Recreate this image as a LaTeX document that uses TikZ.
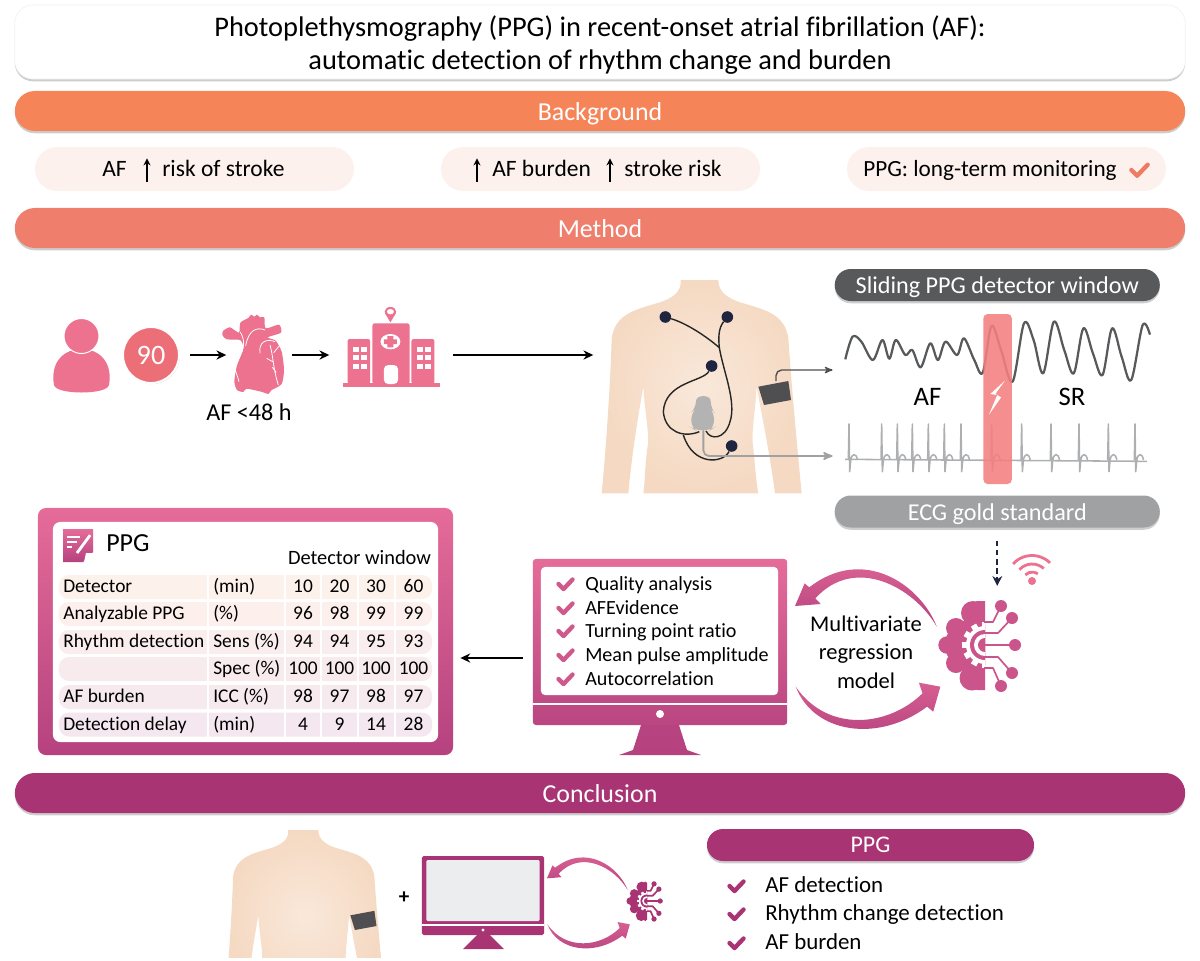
\documentclass[tikz,border=0pt]{standalone}
\usepackage{fontspec}
\setmainfont[Ligatures=NoCommon]{Carlito}
\usetikzlibrary{arrows,arrows.meta,positioning,shadows}

\definecolor{orangebar}{HTML}{F58558}
\definecolor{coralbar}{HTML}{EF7E6D}
\definecolor{plumbar}{HTML}{A93473}
\definecolor{pillfill}{HTML}{FDF1EE}
\definecolor{pinktop}{HTML}{E56C99}
\definecolor{pinkbot}{HTML}{B5427F}
\definecolor{iconpink}{HTML}{EC7290}
\definecolor{badgered}{HTML}{EC6F78}
\definecolor{skinin}{HTML}{F9E8DA}
\definecolor{skinout}{HTML}{F5D9C2}
\definecolor{cuffgray}{HTML}{4F4F51}
\definecolor{darklabel}{HTML}{58595B}
\definecolor{graylabel}{HTML}{A0A1A3}
\definecolor{navyblue}{HTML}{1F2540}
\definecolor{redwindow}{HTML}{F47F80}
\definecolor{rowtop}{HTML}{FDF1EC}
\definecolor{rowbot}{HTML}{F4E7EF}
\definecolor{devgray}{HTML}{B3B3B3}
\definecolor{screengray}{HTML}{ECEDEE}
\definecolor{checkcoral}{HTML}{EE7B62}

\tikzset{
	softshadow/.style={drop shadow={shadow xshift=0pt,shadow yshift=-1.6pt,opacity=.28,fill=black!70}},
	titlebox/.style={draw=black!6,fill=white,rounded corners=.45cm,minimum width=29.25cm,minimum height=1.85cm,inner sep=0pt,align=center,softshadow,font=\fontsize{20.2}{23.5}\selectfont},
	headbar/.style={rounded corners=.5cm,minimum width=29.25cm,minimum height=1cm,inner sep=0pt,text=white,softshadow,text height=14pt,text depth=1.2pt,font=\fontsize{18.4}{22}\selectfont},
	pill/.style={fill=pillfill,rounded corners=.55cm,minimum width=7.975cm,minimum height=1.1cm,inner sep=0pt},
	pilltext/.style={anchor=base west,inner sep=0pt,font=\fontsize{16.7}{20}\selectfont},
	greylabel/.style={rounded corners=.4cm,minimum width=8.125cm,minimum height=.8cm,inner sep=0pt,text=white,softshadow,text height=13.5pt,text depth=.8pt,font=\fontsize{17.2}{20}\selectfont},
	iconbox/.style={inner sep=0pt},
	plaintext/.style={inner sep=0pt,font=\fontsize{17.2}{20}\selectfont},
	waveletter/.style={inner sep=0pt,font=\fontsize{19}{22}\selectfont},
	rowbar/.style={rounded corners=.25cm,minimum width=9.325cm,minimum height=.6cm,inner sep=0pt},
	celltext/.style={anchor=base,inner sep=0pt,font=\fontsize{13.8}{17}\selectfont},
	listtext/.style={anchor=base west,inner sep=0pt,font=\fontsize{14.3}{18}\selectfont},
	electrode/.style={circle,fill=navyblue,inner sep=0pt,minimum size=.29cm},
	wire/.style={black!85,line width=1pt,shorten >=0pt},
	arrowline/.style={-{Stealth[length=7pt,width=6.5pt]},line width=1.2pt},
	uparrow/.style={-{Stealth[length=5pt,width=5pt]},line width=.9pt},
	checkmark/.pic={\draw[line width=3.1pt,line cap=round,line join=round,pic actions] (-7.5,0) -- (-2.5,5) -- (7.5,-5.5);},
}

\newcommand{\torsoshape}{
	\shade[inner color=skinin,outer color=skinout] (272,15) .. controls (275,50) and (250,70) .. (200,85) .. controls (130,105) and (75,120) .. (65,190) .. controls (62,300) and (50,500) .. (35,655) -- (115,655) .. controls (125,540) and (145,420) .. (160,335) .. controls (165,420) and (180,480) .. (172,520) .. controls (165,570) and (165,620) .. (160,655) -- (505,655) .. controls (498,620) and (495,570) .. (490,520) .. controls (482,480) and (495,420) .. (500,335) .. controls (515,420) and (540,540) .. (555,655) -- (635,655) .. controls (620,500) and (602,300) .. (595,190) .. controls (585,120) and (530,105) .. (460,85) .. controls (410,70) and (385,50) .. (385,15) -- cycle;
	\fill[cuffgray] (505,335) -- (595,318) -- (603,375) -- (522,390) -- cycle;
}

\newcommand{\curvedarrows}{
	\shade[top color=pinktop,bottom color=pinkbot] (1195,290) .. controls (1150,165) and (990,45) .. (838,172) -- (825,160) -- (798,228) -- (870,222) -- (855,205) .. controls (965,75) and (1130,170) .. cycle;
	\shade[top color=pinktop!70!pinkbot,bottom color=pinkbot] (800,470) .. controls (850,610) and (1030,640) .. (1168,530) -- (1185,545) -- (1205,470) -- (1145,458) -- (1155,490) .. controls (1060,590) and (890,610) .. cycle;
}

\newcommand{\brainicon}[1]{
	\begin{scope}
		\clip (-60,-60) rectangle (0,60);
		\foreach \lx/\ly/\lr in {-12/-32/12,-29/-17/10,-38/0/8.7,-29/18/10,-13/33/12.5,-15/0/25}
			\fill[#1] (\lx,\ly) circle (\lr);
		\fill[#1,rounded corners=3pt] (-12,-44) rectangle (4,45);
		\foreach \ga in {0,30,...,330}
			\fill[white,rotate around={\ga:(0,0)}] (16,-3) rectangle (23,3);
		\fill[white] (0,0) circle (19);
		\fill[#1] (0,0) circle (15);
		\fill[white] (0,0) circle (11);
		\fill[#1] (0,0) circle (7);
	\end{scope}
	\foreach \dx/\dy in {16/-39,27/-27,30/0,27/28,16/41}
		\fill[#1] (\dx,\dy) circle (6);
	\draw[#1,line width=1.2pt,line join=round] (-1,-23) -- (8,-23) -- (16,-39)
		(-1,-12) -- (13,-12) -- (27,-27)
		(-1,0) -- (30,0)
		(-1,12) -- (13,12) -- (27,28)
		(-1,23) -- (8,23) -- (16,41);
}

\begin{document}
\begin{tikzpicture}[x=.025cm,y=-.025cm,>=stealth',shorten >=1pt]

	\useasboundingbox (0,0) rectangle (1200,960);

	\node[titlebox] (title) at (600,42) {\rule{0pt}{19pt}Photoplethysmography (PPG) in recent-onset atrial fibrillation (AF):\\automatic detection of rhythm change and burden};
	\node[headbar,fill=orangebar] (background) at (600,111) {Background};
	\node[headbar,fill=coralbar] (method) at (600,228) {Method};
	\node[headbar,fill=plumbar] (conclusion) at (600,793) {Conclusion};

	\node[pill] (pill1) at (194.5,169) {};
	\node[pill] (pill2) at (600.5,169) {};
	\node[pill] (pill3) at (1006.5,169) {};
	\node[pilltext] (afrisk) at (102,176) {AF};
	\node[pilltext] (riskstroke) at (162,176) {risk of stroke};
	\node[pilltext] (afburden) at (492,176) {AF burden};
	\node[pilltext] (strokerisk) at (624,176) {stroke risk};
	\node[pilltext,font=\fontsize{16.5}{20}\selectfont] (longterm) at (863,176) {PPG: long-term monitoring};
	\foreach \ax in {147,477,610}
		\draw[uparrow] (\ax,182) -- (\ax,157);
	\pic[draw=checkcoral,scale=1.15] at (1140,170) {checkmark};

	\fill[iconpink] (54,385) .. controls (50,362) and (64,349) .. (81.5,349) .. controls (99,349) and (113,362) .. (109,385) .. controls (107,395) and (56,395) .. (54,385) -- cycle;
	\draw[fill=iconpink,draw=white,line width=.7pt] (81.5,336) circle (17.5);
	\node[iconbox,circle,fill=badgered,draw=white,line width=1.4pt,minimum size=1.4cm,text=white,drop shadow={shadow xshift=.6pt,shadow yshift=-.8pt,opacity=.25},font=\fontsize{20}{24}\selectfont] (badge) at (151,355) {90};

	\node[iconbox,minimum width=1.6cm,minimum height=2cm] (heart) at (260,355) {};
	\begin{scope}[shift={(215,310)},x=.00833cm,y=-.00833cm]
		\fill[iconpink] plot[smooth cycle,tension=.4] coordinates {(25,62) (45,52) (72,68) (76,38) (100,24) (108,14) (118,20) (126,14) (135,22) (148,22) (152,55) (192,44) (198,68) (158,82) (182,92) (200,125) (207,180) (200,222) (170,240) (160,252) (142,246) (95,236) (85,246) (66,240) (58,215) (65,170) (85,115) (75,90) (35,88) (22,75)};
		\draw[white,line width=.55pt] (76,66) .. controls (95,100) and (85,125) .. (60,165) .. controls (60,190) and (68,195) .. (72,215)
			(150,60) .. controls (125,50) and (100,60) .. (92,108)
			(135,130) .. controls (130,95) and (155,85) .. (180,95)
			(165,105) .. controls (175,140) and (175,180) .. (190,225)
			(176,128) -- (195,105) (155,145) -- (173,155) (172,172) -- (186,190);
	\end{scope}

	\node[iconbox,minimum width=3.05cm,minimum height=2cm] (hospital) at (392,355) {};
	\begin{scope}[shift={(0,260)},x=.00957cm,y=-.00833cm]
		\fill[iconpink] (895,370) rectangle (1150,382);
		\fill[iconpink,rounded corners=1.5pt] (908,237) rectangle (967,372);
		\fill[iconpink,rounded corners=1.5pt] (973,190) rectangle (1070,372);
		\fill[iconpink,rounded corners=1.5pt] (1075,237) rectangle (1135,372);
		\foreach \wx in {922,943,1090,1111}
			\foreach \wy in {262,285,312}
				\fill[white] (\wx,\wy) rectangle +(15,14);
		\fill[white] (1020,245) ellipse (26 and 23);
		\fill[iconpink] (1012,228) rectangle (1028,262) (1003,238) rectangle (1037,252);
		\fill[white,rounded corners=3pt] (1003,372) -- (1003,315) -- (1040,315) -- (1040,372) -- cycle;
		\fill[iconpink] (1020,187) -- (1006,160) arc (180:360:14 and 19) -- cycle;
		\fill[iconpink] (1020,155) ellipse (15 and 14);
		\fill[white] (1020,155) ellipse (9 and 8);
	\end{scope}
	\node[plaintext] (onset) at (249,412) {AF <48 h};

	\node[iconbox,minimum width=5.175cm,minimum height=5.35cm] (torso) at (698.5,387) {};
	\begin{scope}[shift={(590,275)},x=.00833cm,y=-.00833cm]
		\torsoshape
		\fill[devgray,rounded corners=5pt] (316,466) -- (304,458) -- (304,412) -- (318,400) .. controls (318,358) and (362,358) .. (362,400) -- (372,412) -- (372,458) -- (360,466) -- cycle;
		\node[electrode] (elec1) at (226,126) {};
		\node[electrode] (elec2) at (412,126) {};
		\node[electrode] (elec3) at (365,273) {};
		\node[electrode] (elec4) at (425,513) {};
		\coordinate (junction) at (388,218);
		\coordinate (devleft) at (328,470);
		\coordinate (devright) at (348,468);
		\coordinate (loopjoin) at (280,480);
		\draw[wire] (elec1) .. controls (290,145) and (350,185) .. (junction);
		\draw[wire] (elec2) .. controls (385,160) and (385,190) .. (junction) .. controls (400,290) and (440,380) .. (420,440) .. controls (405,495) and (360,495) .. (devright);
		\draw[wire] (elec3) .. controls (340,320) and (225,320) .. (220,410) .. controls (225,470) and (280,490) .. (devleft);
		\draw[wire] (elec4) .. controls (400,565) and (310,575) .. (loopjoin);

		\coordinate (cuffout) at (558,318);
		\coordinate (ppgin) at (732,285);
		\coordinate (devout) at (340,466);
		\coordinate (ecgin) at (732,543);
		\draw[->,cuffgray,line width=1pt,rounded corners=4pt] (cuffout) |- (ppgin);
		\draw[->,graylabel,line width=1.3pt,rounded corners=4pt] (devout) |- (ecgin);
	\end{scope}

	\begin{scope}[shift={(580,260)},x=.00957cm,y=-.00833cm]
		\draw[darklabel,line width=1.6pt,line join=round] plot[smooth,tension=.55] coordinates {(693,298) (712,230) (735,245) (765,300) (790,240) (808,296) (825,240) (850,285) (868,270) (890,322) (915,250) (935,300) (955,245) (985,285) (1003,235) (1030,300) (1052,338) (1075,198) (1100,270) (1130,365) (1160,190) (1185,240) (1210,340) (1238,185) (1265,270) (1290,340) (1315,205) (1340,280) (1365,345) (1390,205) (1415,290) (1440,360) (1470,195) (1490,228)};
	\end{scope}
	\begin{scope}[shift={(835,420)},x=.00833cm,y=-.00833cm]
		\draw[graylabel!85!white,line width=1.1pt] (30,118) -- (940,124);
		\foreach \bt in {42,140,187,232,280,328,378,470,560,648,732,820,900}
			\draw[graylabel!85!white,line width=1.1pt,line join=round] (\bt-2,120) -- (\bt,12) -- (\bt+2,155) -- (\bt+5,122) .. controls (\bt+8,98) and (\bt+22,98) .. (\bt+26,124);
	\end{scope}
	\begin{scope}[shift={(580,260)},x=.00957cm,y=-.00833cm]
		\fill[redwindow,opacity=.88,rounded corners=3pt] (1054,162) rectangle (1128,672);
		\fill[white] (1110,362) -- (1072,402) -- (1090,405) -- (1068,465) -- (1100,412) -- (1085,402) -- cycle;
	\end{scope}

	\draw[arrowline,shorten <=.25cm] (badge) -- (heart);
	\draw[arrowline] (heart) -- (hospital);
	\draw[arrowline] (hospital) -- (torso.west |- hospital);

	\node[greylabel,fill=darklabel] (sliding) at (997.25,285) {Sliding PPG detector window};
	\node[greylabel,fill=graylabel] (ecg) at (997.25,511.5) {ECG gold standard};
	\node[waveletter] (aflabel) at (927.5,397) {AF};
	\node[waveletter] (srlabel) at (1072,397) {SR};

	\node[iconbox,minimum width=2.05cm,minimum height=2.3cm] (brain) at (979,645) {};
	\begin{scope}[shift={(985,645)}]
		\brainicon{pinkbot!55!pinktop}
	\end{scope}
	\draw[-{Stealth[length=7pt,width=7pt]},navyblue,line width=1.1pt,dash pattern=on 4pt off 2.5pt,shorten <=.32cm,shorten >=.32cm] (ecg.south) -- (ecg.south |- brain.north);
	\foreach \wr in {9,17,25.5}
		\draw[iconpink,line width=2pt] (1032,581) ++(222:\wr) arc (222:318:\wr);
	\fill[iconpink] (1032,581) circle (4);

	\shade[top color=pinkbot!95!pinktop,bottom color=pinkbot] (642,722) -- (633,750) -- (619,755) -- (701,755) -- (687,750) -- (678,722) -- cycle;
	\node[iconbox,top color=pinktop,bottom color=pinkbot!90!pinktop,rounded corners=.08cm,minimum width=6.36cm,minimum height=4.15cm] (monitor) at (660,642) {};
	\node[iconbox,fill=white,rounded corners=.1cm,minimum width=5.925cm,minimum height=3.2cm] (screen) at (659.5,631) {};
	\fill[white] (532.5,702.5) rectangle (787,704.5);
	\fill[white] (660,714) circle (4);
	\foreach \cy/\ctext/\cname in {584/Quality analysis/quality,608/AFEvidence/afev,631/Turning point ratio/turning,655/Mean pulse amplitude/amplitude,679/Autocorrelation/autocorr} {
		\pic[draw=pinktop!55!pinkbot] at (566,\cy) {checkmark};
		\node[listtext] (\cname) at (585,\cy+6.5) {\ctext};
	}
	\begin{scope}[shift={(510,530)},x=.00893cm,y=-.00833cm]
		\curvedarrows
	\end{scope}
	\node[inner sep=0pt,align=center,font=\fontsize{16}{20.4}\selectfont] (regression) at (866,652) {Multivariate\\regression\\model};

	\node[iconbox,top color=pinktop,bottom color=pinkbot,rounded corners=.2cm,minimum width=10.375cm,minimum height=6.175cm] (panel) at (245.5,631.5) {};
	\node[iconbox,fill=white,rounded corners=.18cm,minimum width=9.625cm,minimum height=5.5cm] (panelin) at (245.5,632) {};
	\shade[top color=pinktop,bottom color=pinkbot] (63,529) -- (93,529) -- (93,552) -- (83,562) -- (63,562) -- cycle;
	\fill[white] (84,562) -- (86,553) -- (93,553) -- cycle;
	\draw[white,line width=1pt] (67,537) -- (80,537) (67,542) -- (77,542) (67,547) -- (73,547);
	\draw[white,line width=2pt] (77,553) -- (91,534);
	\node[inner sep=0pt,anchor=west,font=\fontsize{18.5}{22}\selectfont] (ppgtitle) at (106,543) {PPG};
	\node[inner sep=0pt,font=\fontsize{14.5}{17}\selectfont] (window) at (359.5,557) {Detector window};
	\foreach \ry/\rk/\rname/\runit/\va/\vb/\vc/\vd in {
		587/100/Detector/(min)/10/20/30/60,
		614/85/Analyzable PPG/(\%)/96/98/99/99,
		642/65/Rhythm detection/Sens (\%)/94/94/95/93,
		669/45/{}/Spec (\%)/100/100/100/100,
		697/25/AF burden/ICC (\%)/98/97/98/97,
		724.5/0/Detection delay/(min)/4/9/14/28} {
		\node[rowbar,fill=rowtop!\rk!rowbot] (row\ry) at (245.5,\ry) {};
		\node[celltext,anchor=base west] (name\ry) at (63,\ry+5.5) {\rname};
		\node[celltext,anchor=base west] (unit\ry) at (213,\ry+5.5) {\runit};
		\node[celltext] (a\ry) at (303,\ry+5.5) {\va};
		\node[celltext] (b\ry) at (339.5,\ry+5.5) {\vb};
		\node[celltext] (c\ry) at (376,\ry+5.5) {\vc};
		\node[celltext] (d\ry) at (413.5,\ry+5.5) {\vd};
	}
	\foreach \gx in {208,284.5,321,358,395}
		\fill[white] (\gx-1,574) rectangle (\gx+1,738);

	\coordinate (monout) at (523,658);
	\coordinate (tablein) at (459,658);
	\draw[arrowline] (monout) -- (tablein);

	\begin{scope}
		\clip (200,820) rectangle (400,957);
		\begin{scope}[shift={(215.7,826)},scale=.8,x=.00833cm,y=-.00833cm]
			\torsoshape
		\end{scope}
	\end{scope}
	\node[inner sep=0pt,font=\bfseries\fontsize{15}{18}\selectfont] (plus) at (404,898) {+};

	\fill[plumbar] (463,949) -- (504,949) -- (490,935) -- (477,935) -- cycle;
	\node[iconbox,fill=plumbar,rounded corners=.04cm,minimum width=3.05cm,minimum height=1.975cm] (monitorb) at (483,895.5) {};
	\node[iconbox,fill=screengray,rounded corners=.03cm,minimum width=2.83cm,minimum height=1.525cm] (screenb) at (483,890.5) {};
	\fill[white] (422,924) rectangle (544,925.5);
	\fill[white] (483,930) circle (1.6);
	\begin{scope}[shift={(384.5,835)},scale=.57,x=.00893cm,y=-.00833cm]
		\curvedarrows
	\end{scope}
	\begin{scope}[shift={(647,901)},scale=.44]
		\brainicon{plumbar}
	\end{scope}

	\node[rounded corners=.4cm,minimum width=8.175cm,minimum height=.8cm,inner sep=0pt,fill=plumbar,text=white,softshadow,font=\fontsize{17}{20}\selectfont] (ppgbar) at (870.5,845) {PPG};
	\foreach \fy/\ftext/\fname in {886/AF detection/afdet,914/Rhythm change detection/rhythmdet,943/AF burden/burdenres} {
		\pic[draw=plumbar] at (737,\fy) {checkmark};
		\node[listtext,font=\fontsize{16.3}{19}\selectfont] (\fname) at (765,\fy+6) {\ftext};
	}

\end{tikzpicture}
\end{document}
